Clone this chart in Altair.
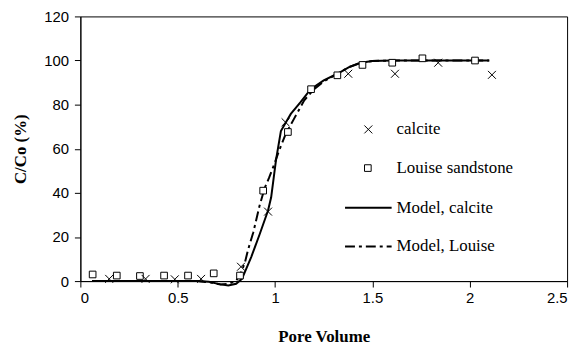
import altair as alt
import pandas as pd

# Measured data: calcite
calcite_x = [0.148, 0.335, 0.485, 0.62, 0.825, 0.964, 1.054, 1.376, 1.616, 1.838, 2.114]
calcite_y = [1.0, 1.0, 0.8, 1.0, 6.5, 31.5, 72, 94, 94, 99, 93.5]

# Measured data: Louise sandstone
louise_x = [0.063, 0.187, 0.306, 0.43, 0.553, 0.685, 0.82, 0.939, 1.066, 1.185, 1.32, 1.449, 1.602, 1.757, 2.027]
louise_y = [3.0, 2.5, 2.3, 2.5, 2.5, 3.5, 2.5, 41, 67.6, 87, 93.3, 98, 99, 101, 100]

# Model, calcite
mcal_x = [0.06, 0.2, 0.4, 0.6, 0.66, 0.72, 0.76, 0.8, 0.83, 0.878, 0.92, 0.964, 0.98, 1.005,
          1.03, 1.056, 1.081, 1.13, 1.183, 1.25, 1.32, 1.38, 1.44, 1.5, 1.6, 1.8, 2.1]
mcal_y = [0, 0, 0, 0, -0.3, -1.5, -2, -1.2, 1, 11, 21, 32, 38, 55,
          68, 72, 75.8, 81, 87, 91, 94, 97, 99, 99.8, 100, 100, 100]

# Model, Louise
mlou_x = [0.06, 0.2, 0.4, 0.6, 0.66, 0.72, 0.76, 0.8, 0.826, 0.845, 0.862, 0.888, 0.92, 0.946,
          0.97, 0.996, 1.02, 1.056, 1.1, 1.15, 1.2, 1.25, 1.32, 1.38, 1.44, 1.5, 1.6, 1.8, 2.1]
mlou_y = [0, 0, 0, 0, -0.5, -1.5, -1.2, 0, 4, 8.4, 14.4, 22, 34, 42,
          47, 53, 59, 67, 74, 82, 87, 90.5, 94, 97, 99, 99.8, 100, 100, 100]

legend_labels = ["calcite", "Louise sandstone", "Model, calcite", "Model, Louise"]

x_ticks = [0, 0.5, 1, 1.5, 2, 2.5]
y_ticks = [0, 20, 40, 60, 80, 100, 120]

XSHAPE = "M-1,-1L1,1M-1,1L1,-1"
DASHDOT = [10, 4, 3, 4]

xs = alt.Scale(domain=[0, 2.5], nice=False)
ys = alt.Scale(domain=[0, 120], nice=False)

xenc = alt.X("x:Q", scale=xs, title="Pore Volume",
             axis=alt.Axis(values=x_ticks, format="~g", titleY=61, titleBaseline="alphabetic"))
yenc = alt.Y("y:Q", scale=ys, title="C/Co (%)",
             axis=alt.Axis(values=y_ticks, titleX=-60, titleBaseline="middle"))

df_cal = pd.DataFrame({"x": calcite_x, "y": calcite_y})
df_lou = pd.DataFrame({"x": louise_x, "y": louise_y})
df_mcal = pd.DataFrame({"x": mcal_x, "y": mcal_y})
df_mlou = pd.DataFrame({"x": mlou_x, "y": mlou_y})

line_cal = alt.Chart(df_mcal).mark_line(color="black", strokeWidth=2).encode(x=xenc, y=yenc)
line_lou = alt.Chart(df_mlou).mark_line(color="black", strokeWidth=2, strokeDash=DASHDOT).encode(x=xenc, y=yenc)
pts_lou = alt.Chart(df_lou).mark_point(shape="square", filled=True, fill="white", stroke="black",
                                        strokeWidth=1, size=45, opacity=1).encode(x=xenc, y=yenc)
pts_cal = alt.Chart(df_cal).mark_point(shape=XSHAPE, filled=False, stroke="black",
                                        strokeWidth=1, size=64, opacity=1).encode(x=xenc, y=yenc)

# Manual legend
lx_text = 319
leg_y = [114, 153, 193, 232]
legend_layers = []
legend_layers.append(
    alt.Chart(pd.DataFrame({"t": [legend_labels[0]]})).mark_point(
        shape=XSHAPE, filled=False, stroke="black", strokeWidth=1, size=64, opacity=1
    ).encode(x=alt.value(290.5), y=alt.value(leg_y[0])))
legend_layers.append(
    alt.Chart(pd.DataFrame({"t": [legend_labels[1]]})).mark_point(
        shape="square", filled=True, fill="white", stroke="black", strokeWidth=1, size=45, opacity=1
    ).encode(x=alt.value(290), y=alt.value(leg_y[1])))
legend_layers.append(
    alt.Chart(pd.DataFrame({"t": [legend_labels[2]]})).mark_rule(color="black", strokeWidth=2).encode(
        x=alt.value(267), x2=alt.value(314), y=alt.value(leg_y[2])))
legend_layers.append(
    alt.Chart(pd.DataFrame({"t": [legend_labels[3]]})).mark_rule(color="black", strokeWidth=2,
                                                                  strokeDash=DASHDOT).encode(
        x=alt.value(267), x2=alt.value(314), y=alt.value(leg_y[3])))
for lab, yy in zip(legend_labels, leg_y):
    legend_layers.append(
        alt.Chart(pd.DataFrame({"t": [lab]})).mark_text(
            align="left", baseline="middle", font="Liberation Serif", fontSize=17, color="black"
        ).encode(x=alt.value(lx_text), y=alt.value(yy), text="t:N"))

chart = alt.layer(line_cal, line_lou, pts_lou, pts_cal, *legend_layers).properties(
    width=491, height=267,
    autosize=alt.AutoSizeParams(type="none"),
    padding={"left": 73, "top": 7, "right": 10, "bottom": 64},
).configure_view(stroke="black", strokeWidth=1).configure_axis(
    grid=False, domainColor="black", domainWidth=1, tickColor="black", tickSize=6, tickWidth=1,
    labelFont="Liberation Sans", labelFontSize=15, labelColor="black", labelPadding=4,
    titleFont="Liberation Serif", titleFontSize=17, titleFontWeight="bold", titleColor="black",
).configure_axisY(labelPadding=6)

chart.save("out.html", embed_options={"renderer": "svg", "actions": False})
